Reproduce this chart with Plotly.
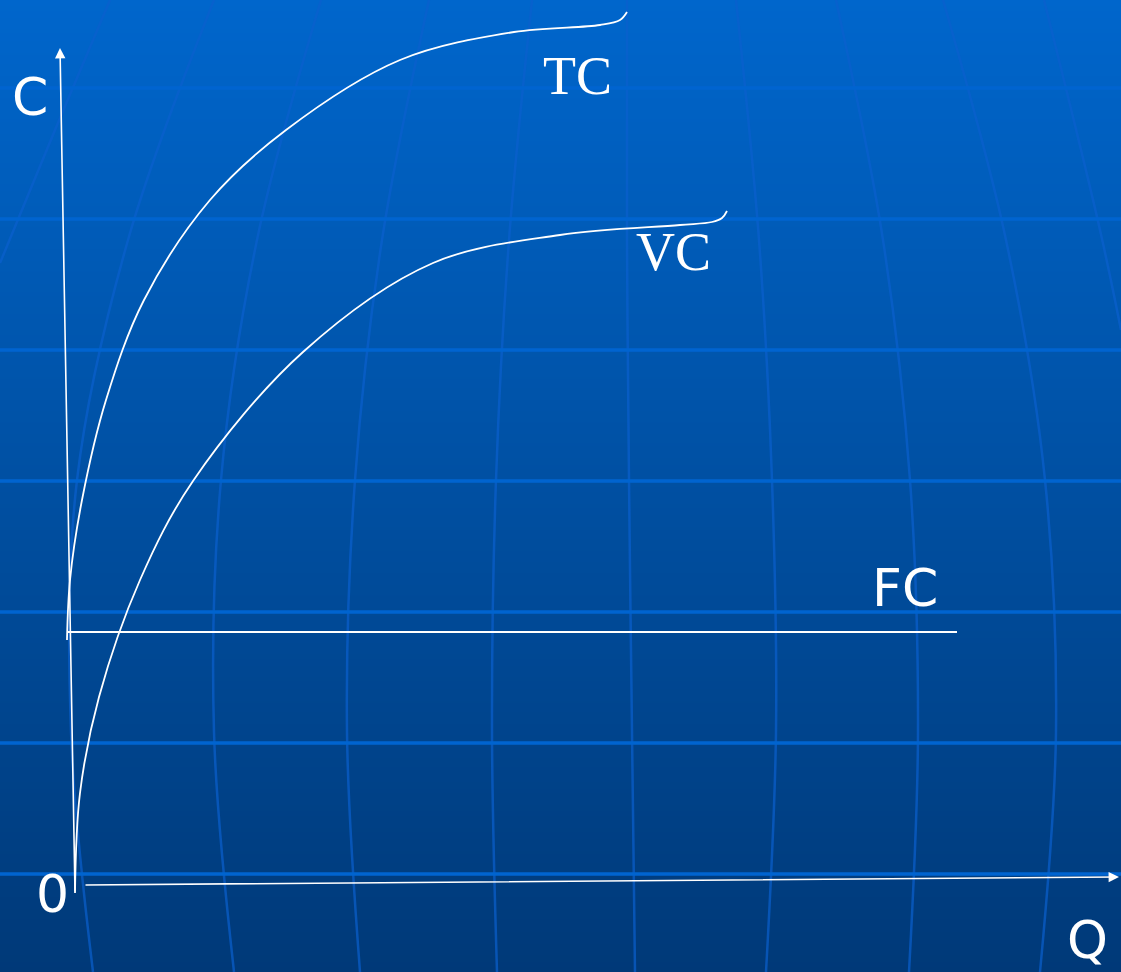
import plotly.graph_objects as go

# Leitura dos pontos (coordenadas da figura: x para a direita, y para baixo)
W, H = 1121, 972

# curvas de custo
tc_x = [67, 70, 82, 106, 144, 210, 286, 400, 514, 600, 620, 627]
tc_y = [640, 580, 500, 400, 300, 200, 130, 60, 32, 25, 20, 12]
vc_x = [75, 80, 99, 140, 193, 303, 433, 560, 680, 712, 722, 727]
vc_y = [893, 793, 697, 580, 481, 352, 263, 235, 225, 222, 218, 211]
fc_x = [67, 957]
fc_y = [632, 632]

# eixos (base -> ponta da seta)
c_axis = [(75, 893), (60, 48)]
q_axis = [(84, 885), (1119, 877)]

# rotulos
labels = ['C', '0', 'FC', 'Q', 'TC', 'VC']
lab_x = [30, 52, 905, 1087, 577, 673]
lab_y = [97, 894, 588, 940, 76, 252]
lab_serif = [False, False, False, False, True, True]

# fundo: linhas horizontais e meridianos curvos
grid_h = [88, 219, 350, 481, 612, 743, 874]
mer_y = [972, 732, 480, 240, 0]
meridians = [
    [93, 71, 77, 128, 214],
    [234, 214, 221, 257, 321],
    [360, 347, 355, 382, 429],
    [497, 492, 496, 509, 532],
    [635, 632, 629, 627, 627],
    [766, 776, 772, 759, 736],
    [909, 918, 910, 883, 836],
    [1040, 1056, 1045, 1006, 943],
]
edge_mer = [([0, 55, 110], [263, 130, 0]), ([1121, 1100, 1044], [330, 230, 0])]

# Plotagem
fig = go.Figure()
fig.add_trace(go.Heatmap(x=[0, W], y=[0, H], z=[[0, 0], [1, 1]], zsmooth='best',
                         colorscale=[[0, 'rgb(0,102,204)'], [1, 'rgb(0,57,120)']],
                         showscale=False, hoverinfo='skip'))
for m in meridians:
    fig.add_trace(go.Scatter(x=m, y=mer_y, mode='lines', line_shape='spline',
                             line=dict(color='rgba(10,95,205,0.7)', width=2.5),
                             showlegend=False, hoverinfo='skip'))
for mx, my in edge_mer:
    fig.add_trace(go.Scatter(x=mx, y=my, mode='lines', line_shape='spline',
                             line=dict(color='rgba(10,95,205,0.7)', width=2.5),
                             showlegend=False, hoverinfo='skip'))
for gy in grid_h:
    fig.add_trace(go.Scatter(x=[0, W], y=[gy, gy], mode='lines',
                             line=dict(color='rgb(0,100,208)', width=3.5),
                             showlegend=False, hoverinfo='skip'))

fig.add_trace(go.Scatter(x=tc_x, y=tc_y, mode='lines',
                         line=dict(color='white', width=1.8, shape='spline', smoothing=1, simplify=False),
                         showlegend=False))
fig.add_trace(go.Scatter(x=vc_x, y=vc_y, mode='lines',
                         line=dict(color='white', width=1.8, shape='spline', smoothing=1, simplify=False),
                         showlegend=False))
fig.add_trace(go.Scatter(x=fc_x, y=fc_y, mode='lines',
                         line=dict(color='white', width=2), showlegend=False))

for (x0, y0), (x1, y1) in [c_axis, q_axis]:
    fig.add_annotation(x=x1, y=y1, ax=x0, ay=y0, xref='x', yref='y', axref='x', ayref='y',
                       text='', showarrow=True, arrowhead=2, arrowsize=1.3,
                       arrowwidth=1.6, arrowcolor='white', standoff=0, startstandoff=0)

for t, lx, ly, serif in zip(labels, lab_x, lab_y, lab_serif):
    fam = 'Liberation Serif' if serif else 'DejaVu Sans'
    fig.add_annotation(x=lx, y=ly, text=t, showarrow=False, xanchor='center', yanchor='middle',
                       font=dict(family=fam, size=54 if serif else 52, color='white'))

fig.update_xaxes(range=[0, W], visible=False, fixedrange=True)
fig.update_yaxes(range=[H, 0], visible=False, fixedrange=True)
fig.update_layout(width=W, height=H, margin=dict(l=0, r=0, t=0, b=0),
                  paper_bgcolor='rgb(0,60,125)', plot_bgcolor='rgba(0,0,0,0)',
                  showlegend=False)
fig.write_html('out.html', config={'displayModeBar': False},
               post_script="document.body.style.margin='0';document.body.style.overflow='hidden';")
